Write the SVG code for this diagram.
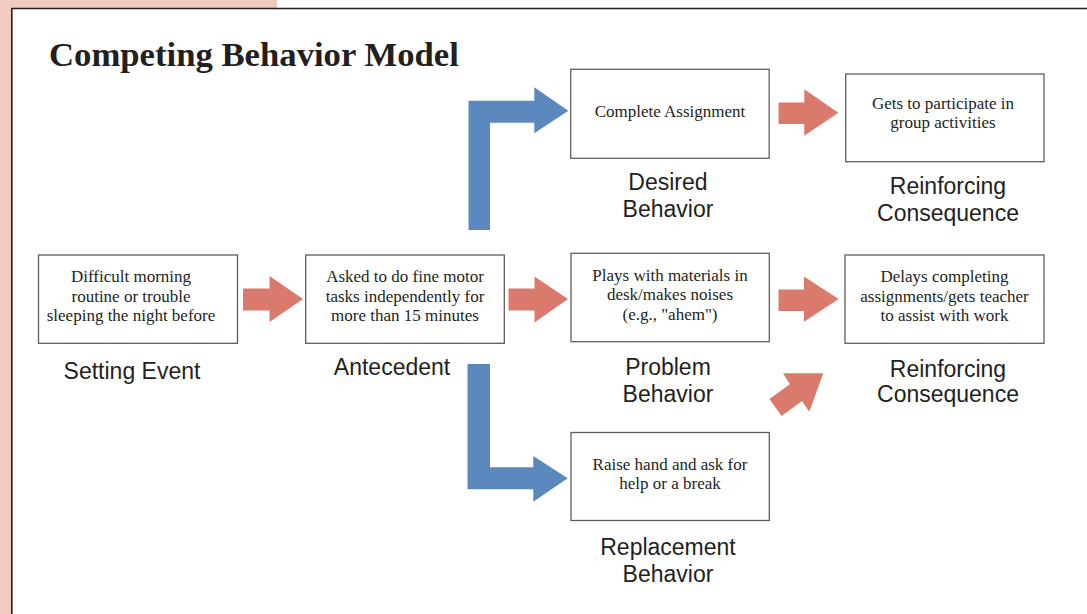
<svg xmlns="http://www.w3.org/2000/svg" width="1087" height="614" viewBox="0 0 1087 614">
<style>
.box{fill:#fff;stroke:#5e5e5e;stroke-width:1.3}
.bt{font-family:"Liberation Serif",serif;font-size:17px;fill:#231f20;text-anchor:middle}
.lb{font-family:"Liberation Sans",Arial,sans-serif;font-size:23px;fill:#231f20;text-anchor:middle}
.red{fill:#d97a6d}
.blue{fill:#5b88bd}
</style>
<rect x="0" y="0" width="1087" height="614" fill="#fff"/>
<rect x="0" y="0" width="277" height="8" fill="#f2cbc0"/>
<rect x="0" y="0" width="11" height="614" fill="#f2cbc0"/>
<path d="M11.8 614 V8.5 H1087" fill="none" stroke="#231f20" stroke-width="1.6"/>
<text x="49" y="66" font-family="Liberation Serif,serif" font-weight="bold" font-size="34.7" fill="#231f20">Competing Behavior Model</text>

<g id="connectors">
<polygon class="red" points="243,288.5 269.5,288.5 269.5,276 303,299 269.5,322 269.5,310.5 243,310.5"/>
<polygon class="red" points="508.5,288.5 534.5,288.5 534.5,276.5 568,299 534.5,322.5 534.5,310.5 508.5,310.5"/>
<polygon class="red" points="778.5,289.5 804,289.5 804,276.5 838.5,299 804,321.7 804,311 778.5,311"/>
<polygon class="red" points="778.5,102.5 804.3,102.5 804.3,89.3 838.3,112.7 804.3,135.7 804.3,124 778.5,124"/>
<polygon class="red" points="769.4,399.1 789.9,384.2 783,373.3 823.3,373.3 809.3,411.7 802.1,401 781.6,415.9"/>
<polygon class="blue" points="468.5,230 468.5,100.7 534.3,100.7 534.3,87.3 568.3,110.7 534.3,133.3 534.3,122.7 490,122.7 490,230"/>
<polygon class="blue" points="467.5,364 490,364 490,467.3 533.3,467.3 533.3,456 567.7,478.3 533.3,501.7 533.3,489.3 467.5,489.3"/>
</g>

<g id="setting-event">
<rect class="box" x="38.5" y="255" width="199" height="88.3"/>
<text class="bt" x="131" y="282.3">Difficult morning</text>
<text class="bt" x="131" y="301.7">routine or trouble</text>
<text class="bt" x="131" y="321">sleeping the night before</text>
<text class="lb" x="132" y="379">Setting Event</text>
</g>

<g id="antecedent">
<rect class="box" x="305.7" y="255" width="198.6" height="88.3"/>
<text class="bt" x="405" y="282.3">Asked to do fine motor</text>
<text class="bt" x="405" y="301.7">tasks independently for</text>
<text class="bt" x="405" y="321">more than 15 minutes</text>
<text class="lb" x="392" y="375">Antecedent</text>
</g>

<g id="desired-behavior">
<rect class="box" x="570.7" y="69.3" width="198.5" height="89"/>
<text class="bt" x="670" y="117">Complete Assignment</text>
<text class="lb" x="668" y="190">Desired</text>
<text class="lb" x="668" y="217">Behavior</text>
</g>

<g id="problem-behavior">
<rect class="box" x="571" y="253.3" width="198.3" height="88.4"/>
<text class="bt" x="670" y="280.5">Plays with materials in</text>
<text class="bt" x="670" y="300">desk/makes noises</text>
<text class="bt" x="670" y="320">(e.g., "ahem")</text>
<text class="lb" x="668" y="375">Problem</text>
<text class="lb" x="668" y="402">Behavior</text>
</g>

<g id="replacement-behavior">
<rect class="box" x="571" y="432.5" width="198.3" height="88"/>
<text class="bt" x="670" y="469.5">Raise hand and ask for</text>
<text class="bt" x="670" y="489">help or a break</text>
<text class="lb" x="668" y="555">Replacement</text>
<text class="lb" x="668" y="582">Behavior</text>
</g>

<g id="reinforcing-consequence-top">
<rect class="box" x="845.7" y="74" width="198.3" height="87.7"/>
<text class="bt" x="943" y="109.3">Gets to participate in</text>
<text class="bt" x="943" y="128.3">group activities</text>
<text class="lb" x="948" y="194">Reinforcing</text>
<text class="lb" x="948" y="221">Consequence</text>
</g>

<g id="reinforcing-consequence-bottom">
<rect class="box" x="845" y="255" width="199" height="88.3"/>
<text class="bt" x="944.5" y="282.3">Delays completing</text>
<text class="bt" x="944.5" y="301.7">assignments/gets teacher</text>
<text class="bt" x="944.5" y="321">to assist with work</text>
<text class="lb" x="948" y="376.7">Reinforcing</text>
<text class="lb" x="948" y="402">Consequence</text>
</g>
</svg>
